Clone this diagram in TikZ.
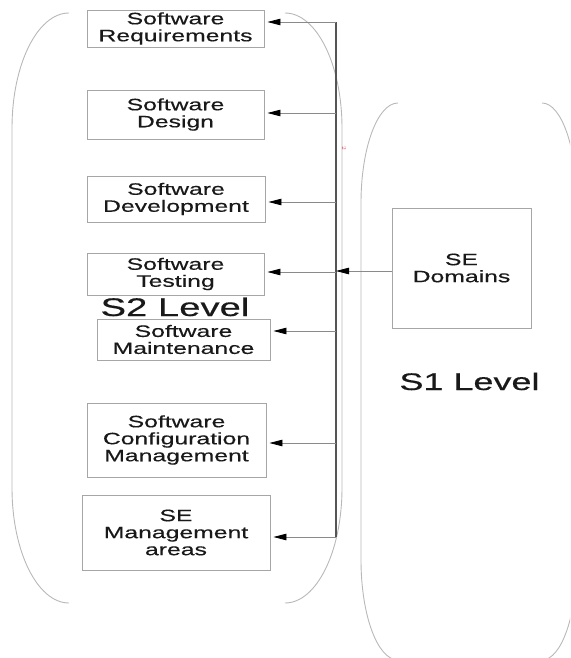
\documentclass[tikz,border=0pt]{standalone}
\usepackage{fontspec}
\newfontfamily\diagfont[FakeStretch=1.5, FakeBold=0.4]{Liberation Sans}
\usetikzlibrary{arrows.meta, positioning}
\definecolor{boxline}{HTML}{A6A6A6}
\definecolor{lobeline}{HTML}{B8B8B8}
\definecolor{feedline}{HTML}{8A8A8A}
\definecolor{trunkline}{HTML}{555555}
\definecolor{inkred}{HTML}{E0405A}
\tikzset{
  % scatola di un'area
  area/.style={draw=boxline, line width=0.9pt, align=center, inner sep=1pt,
    font=\diagfont\fontsize{16.5}{17}\selectfont, text=black!90},
  % freccia verso un'area
  feed/.style={draw=feedline, line width=0.8pt,
    -{Triangle[length=13pt, width=6.5pt, color=black]}, shorten >=3pt},
  % linea verticale comune
  trunk/.style={draw=trunkline, line width=2.2pt},
  % contorno di un livello
  lobe/.style={draw=lobeline, line width=0.9pt},
  % nome del livello
  levellbl/.style={anchor=base, text=black!90, inner sep=0pt},
}

\begin{document}
\begin{tikzpicture}[x=1pt, y=-1pt]
  \useasboundingbox (0,0) rectangle (570,658);
  \clip (0,0) rectangle (570,658);
  % contorni dei due livelli
  \draw[lobe] (69,13) .. controls (37.5,13) and (12,64.5) .. (12,128) -- (12,488)
    .. controls (12,551.5) and (37.5,603) .. (69,603);
  \draw[lobe] (285,13) .. controls (316.5,13) and (342,64.5) .. (342,128) -- (342,488)
    .. controls (342,551.5) and (316.5,603) .. (285,603);
  \draw[lobe] (398,103) .. controls (377.6,103) and (361,147.8) .. (361,203) -- (361,560)
    .. controls (361,615.2) and (377.6,660) .. (398,660);
  \draw[lobe] (542,103) .. controls (561.3,103) and (577,147.8) .. (577,203) -- (577,560)
    .. controls (577,615.2) and (561.3,660) .. (542,660);
  % aree del livello S2
  \node[area, minimum width=177pt, minimum height=37pt] (req) at (175.5,28.5) {Software\\Requirements};
  \node[area, minimum width=177pt, minimum height=49pt] (des) at (175.5,114.5) {Software\\Design};
  \node[area, minimum width=178pt, minimum height=46pt] (dev) at (176,199) {Software\\Development};
  \node[area, minimum width=177pt, minimum height=42pt] (tst) at (175.5,274) {Software\\Testing};
  \node[area, minimum width=173pt, minimum height=41pt] (mnt) at (183.5,339.5) {Software\\Maintenance};
  \node[area, minimum width=179pt, minimum height=74pt] (scm) at (176.5,440) {Software\\Configuration\\Management};
  \node[area, minimum width=188pt, minimum height=75pt] (sem) at (176,532.5) {SE\\Management\\areas};
  % area del livello S1
  \node[area, minimum width=139pt, minimum height=120pt] (dom) at (461.5,268) {SE\\Domains};
  \node[levellbl, font=\diagfont\fontsize{25.5}{28}\selectfont] (s2) at (175,316) {S2 Level};
  \node[levellbl, font=\diagfont\fontsize{24}{26}\selectfont] (s1) at (469.5,390) {S1 Level};
  \node[text=inkred, font=\fontsize{6}{6}\selectfont, rotate=-90, inner sep=0pt] (blot) at (344,148) {2};
  % linea comune e frecce
  \coordinate (top) at (336,22);
  \coordinate (foot) at (336,537);
  \draw[trunk] (top) -- (foot);
  \foreach \n/\dy in {req/6.5, des/1.5, dev/-3, tst/2, mnt/8.5, scm/-3, sem/-4.5}
    \draw[feed] ([yshift=\dy pt]top |- \n.east) -- ([yshift=\dy pt]\n.east);
  \draw[feed, shorten >=0pt] ([yshift=-3pt]dom.west) -- ([yshift=-3pt]top |- dom.west);
\end{tikzpicture}
\end{document}
